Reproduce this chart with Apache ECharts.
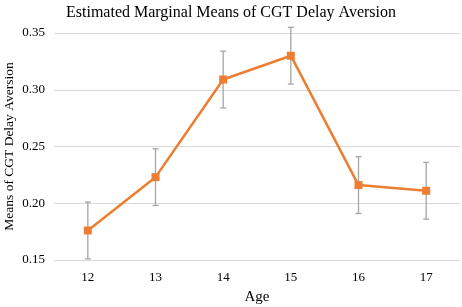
<!DOCTYPE html>
<html><head><meta charset="utf-8">
<script src="https://cdn.jsdelivr.net/npm/echarts@6/dist/echarts.min.js"></script>
<style>html,body{margin:0;padding:0;background:#fff}#c{width:462px;height:307px}</style>
</head><body><div id="c"></div>
<script>
var categories = ['12','13','14','15','16','17'];
var means = [0.176, 0.223, 0.309, 0.330, 0.216, 0.211];
var errLow = [0.151, 0.198, 0.284, 0.305, 0.191, 0.186];
var errHigh = [0.201, 0.248, 0.334, 0.355, 0.241, 0.236];
var yTicks = [0.15, 0.20, 0.25, 0.30, 0.35];

var chart = echarts.init(document.getElementById('c'));
var font = '"Liberation Serif", "Times New Roman", serif';
chart.setOption({
  animation: false,
  title: {text: 'Estimated Marginal Means of CGT Delay Aversion', left: 'center', top: 0,
    textStyle: {fontFamily: font, fontSize: 16, fontWeight: 'normal', color: '#000'}},
  grid: {left: 54, right: 2, top: 33, bottom: 47, containLabel: false, outerBoundsMode: 'none'},
  xAxis: {type: 'category', data: categories, boundaryGap: true,
    name: 'Age', nameLocation: 'middle', nameGap: 30, nameMoveOverlap: false,
    nameTextStyle: {fontFamily: font, fontSize: 15, color: '#000'},
    axisLine: {show: false}, axisTick: {show: false},
    axisLabel: {fontFamily: font, fontSize: 13, color: '#000', margin: 11}},
  yAxis: {type: 'value', min: 0.15, max: 0.35, interval: 0.05,
    name: 'Means of CGT Delay Aversion', nameLocation: 'middle', nameGap: 38, nameMoveOverlap: false,
    nameTextStyle: {fontFamily: font, fontSize: 13.5, color: '#000'},
    axisLine: {show: false}, axisTick: {show: false},
    splitLine: {lineStyle: {color: '#D9D9D9', width: 1}},
    axisLabel: {fontFamily: font, fontSize: 13, color: '#000', margin: 9,
      formatter: function(v){ return v.toFixed(2); }}},
  series: [
    {type: 'custom', z: 1,
      data: categories.map(function(c, i){ return [i, errLow[i], errHigh[i]]; }),
      renderItem: function(params, api){
        var lo = api.coord([api.value(0), api.value(1)]);
        var hi = api.coord([api.value(0), api.value(2)]);
        var w = 3;
        var st = {stroke: '#A5A5A5', lineWidth: 1.3};
        return {type: 'group', children: [
          {type: 'line', shape: {x1: lo[0], y1: lo[1], x2: hi[0], y2: hi[1]}, style: st},
          {type: 'line', shape: {x1: lo[0]-w, y1: lo[1], x2: lo[0]+w, y2: lo[1]}, style: st},
          {type: 'line', shape: {x1: hi[0]-w, y1: hi[1], x2: hi[0]+w, y2: hi[1]}, style: st}
        ]};
      }},
    {type: 'line', z: 3, data: means, symbol: 'rect', symbolSize: 8,
      lineStyle: {color: '#ED7D31', width: 2.5},
      itemStyle: {color: '#ED7D31'}}
  ]
});
</script></body></html>
